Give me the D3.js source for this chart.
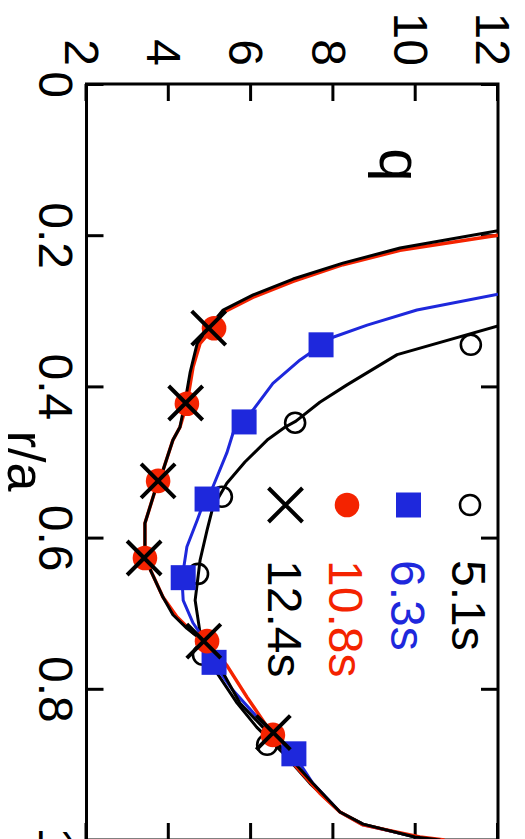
<!DOCTYPE html>
<html>
<head>
<meta charset="utf-8">
<script src="https://cdn.jsdelivr.net/npm/d3@7"></script>
<style>
  html, body { margin: 0; padding: 0; background: #fff; }
  svg { display: block; }
</style>
</head>
<body>
<svg id="chart" width="525" height="839"></svg>
<script>
// ---- data ----
const raTicks = [0, 0.2, 0.4, 0.6, 0.8, 1];
const raTickLabels = ["0", "0.2", "0.4", "0.6", "0.8", "1"];
const qTicks = [2, 4, 6, 8, 10, 12];
const qTickLabels = ["2", "4", "6", "8", "10", "12"];

const seriesNames = ["5.1s", "6.3s", "10.8s", "12.4s"];

// profile lines: [r/a, q]
const line51 = [[0.320,12.0],[0.358,9.55],[0.398,8.33],[0.421,7.67],[0.446,7.09],[0.454,6.82],[0.471,6.39],[0.500,5.85],[0.528,5.41],[0.560,5.07],[0.590,4.93],[0.630,4.76],[0.683,4.64],[0.726,4.76],[0.779,5.17],[0.819,5.66],[0.851,6.14],[0.885,6.78],[0.925,7.43],[0.963,8.16],[0.979,8.72],[0.996,9.98],[1.0,10.5]];
const line63 = [[0.278,12.0],[0.299,10.03],[0.319,8.82],[0.335,7.99],[0.347,7.67],[0.365,7.19],[0.396,6.53],[0.431,6.05],[0.447,5.80],[0.462,5.56],[0.488,5.41],[0.533,5.07],[0.549,4.88],[0.577,4.69],[0.612,4.44],[0.655,4.32],[0.683,4.35],[0.713,4.59],[0.735,4.86],[0.765,5.07],[0.802,5.56],[0.837,6.14],[0.885,7.02],[0.925,7.50],[0.963,8.16],[0.980,8.72],[0.996,10.03],[1.0,10.6]];
const line108 = [[0.200,12.0],[0.220,9.62],[0.239,8.23],[0.261,7.02],[0.282,6.05],[0.302,5.32],[0.324,5.07],[0.343,4.76],[0.374,4.59],[0.423,4.44],[0.454,4.27],[0.471,4.10],[0.511,3.86],[0.525,3.74],[0.581,3.42],[0.627,3.42],[0.679,3.86],[0.705,4.20],[0.726,4.59],[0.737,4.90],[0.769,5.41],[0.811,5.90],[0.860,6.51],[0.894,6.95],[0.938,7.67],[0.963,8.16],[0.980,8.72],[0.996,10.10],[1.0,10.7]];
const line124 = [[0.194,12.0],[0.217,9.62],[0.237,8.23],[0.258,7.02],[0.279,6.05],[0.299,5.32],[0.323,4.95],[0.343,4.69],[0.381,4.52],[0.422,4.39],[0.454,4.27],[0.471,4.10],[0.511,3.86],[0.525,3.74],[0.581,3.42],[0.627,3.42],[0.679,3.86],[0.702,4.10],[0.720,4.44],[0.737,4.83],[0.771,5.24],[0.819,5.73],[0.851,6.29],[0.881,6.78],[0.925,7.50],[0.963,8.16],[0.979,8.72],[0.996,9.98],[1.0,10.6]];

// measured points (markers): [r/a, q]
const pts51 = [[0.345,11.34],[0.448,7.07],[0.546,5.29],[0.648,4.71],[0.755,4.83],[0.874,6.39]];
const pts63 = [[0.345,7.70],[0.447,5.83],[0.549,4.93],[0.653,4.35],[0.765,5.10],[0.886,7.04]];
const pts108 = [[0.323,5.10],[0.423,4.44],[0.525,3.74],[0.627,3.42],[0.737,4.93],[0.861,6.53]];
const pts124 = [[0.323,4.97],[0.422,4.41],[0.525,3.74],[0.627,3.40],[0.737,4.85],[0.858,6.54]];

// ---- styling ----
const RED = "#f42300", BLUE = "#1e28dc", BLACK = "#000";
const FONT = "'Liberation Sans', Arial, Helvetica, sans-serif";

const series = [
  {name: seriesNames[0], line: line51, pts: pts51, color: BLACK, lw: 3, marker: "open"},
  {name: seriesNames[1], line: line63, pts: pts63, color: BLUE, lw: 3, marker: "square"},
  {name: seriesNames[2], line: line108, pts: pts108, color: RED, lw: 3.5, marker: "dot"},
  {name: seriesNames[3], line: line124, pts: pts124, color: BLACK, lw: 3, marker: "cross"}
];

const svg = d3.select("#chart");
// whole chart drawn in its natural orientation, then turned a quarter turn clockwise
const g = svg.append("g").attr("transform", "translate(525,0) rotate(90)");

const x = d3.scaleLinear().domain([0, 1]).range([84, 840]);      // r/a
const y = d3.scaleLinear().domain([2, 12]).range([438.5, 27]);   // q

g.append("clipPath").attr("id", "clip")
  .append("rect")
  .attr("x", x(0)).attr("y", y(12))
  .attr("width", x(1) - x(0)).attr("height", y(2) - y(12));

function styleAxis(sel) {
  sel.attr("font-family", FONT).attr("font-size", 48);
  sel.select(".domain").remove();
  sel.selectAll(".tick line").attr("stroke-width", 3);
  sel.selectAll(".tick text").attr("fill", "#000");
}

// bottom (r/a)
g.append("g").attr("transform", `translate(0,${y(2)})`)
  .call(d3.axisBottom(x).tickValues(raTicks).tickSizeInner(-17).tickSizeOuter(0).tickPadding(13.5)
    .tickFormat((d, i) => raTickLabels[i]))
  .call(styleAxis);
// top
g.append("g").attr("transform", `translate(0,${y(12)})`)
  .call(d3.axisTop(x).tickValues(raTicks).tickSizeInner(-17).tickSizeOuter(0).tickFormat(""))
  .call(styleAxis);
// left (q)
g.append("g").attr("transform", `translate(${x(0)},0)`)
  .call(d3.axisLeft(y).tickValues(qTicks).tickSizeInner(-17).tickSizeOuter(0).tickPadding(18)
    .tickFormat((d, i) => qTickLabels[i]))
  .call(styleAxis)
  .call(s => s.selectAll(".tick text").attr("dy", "0.44em"));
// right
g.append("g").attr("transform", `translate(${x(1)},0)`)
  .call(d3.axisRight(y).tickValues(qTicks).tickSizeInner(-17).tickSizeOuter(0).tickFormat(""))
  .call(styleAxis);

// frame
g.append("rect")
  .attr("x", x(0)).attr("y", y(12))
  .attr("width", x(1) - x(0)).attr("height", y(2) - y(12))
  .attr("fill", "none").attr("stroke", "#000").attr("stroke-width", 3);

// axis titles
g.append("text").attr("x", 461).attr("y", 517)
  .attr("text-anchor", "middle").attr("font-family", FONT).attr("font-size", 52)
  .text("r/a");
g.append("text").attr("x", 165).attr("y", 145)
  .attr("text-anchor", "middle").attr("font-family", FONT).attr("font-size", 60)
  .text("q");

// lines
const lineGen = d3.line().x(d => x(d[0])).y(d => y(d[1]));
const plot = g.append("g").attr("clip-path", "url(#clip)");
series.forEach(s => {
  plot.append("path").datum(s.line)
    .attr("d", lineGen)
    .attr("fill", "none")
    .attr("stroke", s.color)
    .attr("stroke-width", s.lw)
    .attr("stroke-linejoin", "round");
});

function drawMarker(sel, type, color) {
  if (type === "open") {
    sel.append("circle").attr("r", 10).attr("fill", "none").attr("stroke", color).attr("stroke-width", 2.6);
  } else if (type === "square") {
    sel.append("rect").attr("x", -12.5).attr("y", -12.5).attr("width", 25).attr("height", 25).attr("fill", color);
  } else if (type === "dot") {
    sel.append("circle").attr("r", 12.3).attr("fill", color);
  } else if (type === "cross") {
    sel.append("path").attr("d", "M-17,-17L17,17M-17,17L17,-17")
      .attr("stroke", color).attr("stroke-width", 4).attr("fill", "none");
  }
}

// markers
series.forEach(s => {
  s.pts.forEach(p => {
    const m = g.append("g").attr("transform", `translate(${x(p[0])},${y(p[1])})`);
    drawMarker(m, s.marker, s.color);
  });
});

// legend
const legBase = [73, 134.5, 196, 257.5];
series.forEach((s, i) => {
  const row = g.append("g");
  const m = row.append("g").attr("transform", `translate(505,${legBase[i] - 18})`);
  drawMarker(m, s.marker, s.color);
  row.append("text").attr("x", 560).attr("y", legBase[i])
    .attr("font-family", FONT).attr("font-size", 48)
    .attr("fill", s.color === BLACK ? "#000" : s.color)
    .text(s.name);
});
</script>
</body>
</html>
